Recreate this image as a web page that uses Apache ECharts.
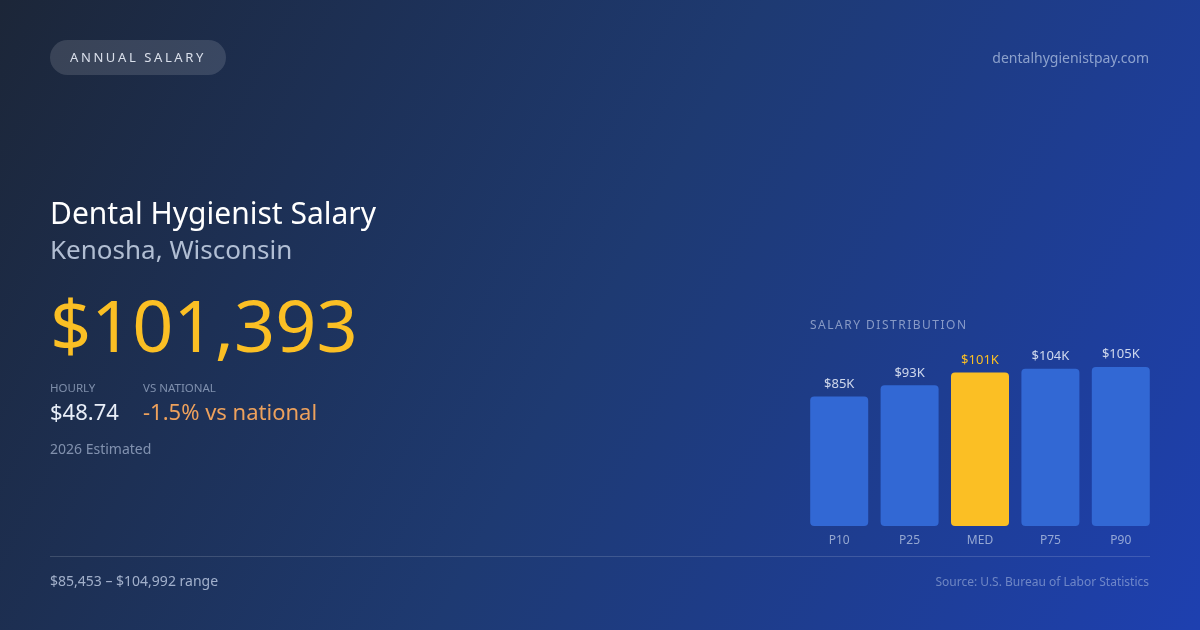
<!DOCTYPE html>
<html>
<head>
<meta charset="utf-8">
<script src="https://cdn.jsdelivr.net/npm/echarts@6/dist/echarts.min.js"></script>
<style>
  html, body { margin: 0; padding: 0; }
  #container { width: 1200px; height: 630px; }
</style>
</head>
<body>
<div id="container"></div>
<script>
// data
var categories = ['P10', 'P25', 'MED', 'P75', 'P90'];
var salaries = [85453, 92900, 101393, 103800, 104992];
var medianIndex = 2;

var title = 'Dental Hygienist Salary';
var place = 'Kenosha, Wisconsin';
var medianText = '$101,393';
var hourlyText = '$48.74';
var nationalText = '-1.5% vs national';
var rangeText = '$85,453 – $104,992 range';

var FONT = '"Noto Sans", "Open Sans", sans-serif';

// letter-spaced text, one element per character
var measureCtx = document.createElement('canvas').getContext('2d');
function spaced(str, x, y, size, spacing, color) {
    measureCtx.font = size + 'px ' + FONT;
    var out = [];
    var cx = x;
    for (var i = 0; i < str.length; i++) {
        var ch = str[i];
        out.push({
            type: 'text', x: cx, y: y,
            style: { text: ch, font: size + 'px ' + FONT, fill: color, verticalAlign: 'middle' }
        });
        cx += measureCtx.measureText(ch).width + spacing;
    }
    return out;
}

function txt(str, x, y, size, color, align) {
    return {
        type: 'text', x: x, y: y,
        style: {
            text: str, fill: color, align: align || 'left', verticalAlign: 'middle',
            font: size + 'px ' + FONT
        }
    };
}

var myChart = echarts.init(document.getElementById('container'));

var graphics = [
    { type: 'rect', shape: { x: 50, y: 40, width: 176, height: 35, r: 17.5 }, style: { fill: 'rgba(255,255,255,0.13)' } },
    txt('dentalhygienistpay.com', 1149, 59.5, 14, 'rgba(200,215,240,0.65)', 'right'),
    txt(title, 50, 215, 30, '#ffffff'),
    txt(place, 50, 252, 26, 'rgba(210,222,240,0.82)'),
    txt(medianText, 50, 331, 72, '#fbbf24'),
    txt('HOURLY', 50, 388.5, 11.5, 'rgba(190,205,230,0.6)'),
    txt('VS NATIONAL', 143, 388.5, 11.5, 'rgba(190,205,230,0.6)'),
    txt(hourlyText, 50, 414, 22, '#e8eef8'),
    txt(nationalText, 143, 414, 22, '#eda15c'),
    txt('2026 Estimated', 50, 450.5, 14, 'rgba(190,205,230,0.62)'),
    { type: 'line', shape: { x1: 50, y1: 556.5, x2: 1150, y2: 556.5 }, style: { stroke: 'rgba(255,255,255,0.15)', lineWidth: 1 } },
    txt(rangeText, 50, 582.5, 14, 'rgba(205,218,240,0.75)'),
    txt('Source: U.S. Bureau of Labor Statistics', 1149, 582.5, 12, 'rgba(190,205,235,0.5)', 'right')
];
graphics = graphics.concat(spaced('ANNUAL SALARY', 70, 58.5, 13, 2.6, 'rgba(235,240,250,0.9)'));
graphics = graphics.concat(spaced('SALARY DISTRIBUTION', 810, 326, 12, 1.5, 'rgba(200,212,235,0.62)'));

myChart.setOption({
    backgroundColor: new echarts.graphic.LinearGradient(0, 0, 1, 1, [
        { offset: 0, color: '#1c2638' },
        { offset: 0.5, color: '#1e3a72' },
        { offset: 1, color: '#1e40b0' }
    ]),
    animation: false,
    textStyle: { fontFamily: FONT },
    graphic: graphics,
    grid: { left: 804, right: 44, top: 367, bottom: 104 },
    xAxis: {
        type: 'category',
        data: categories,
        axisLine: { show: false },
        axisTick: { show: false },
        axisLabel: { color: 'rgba(200,212,235,0.7)', fontSize: 12, margin: 8.5 }
    },
    yAxis: {
        type: 'value',
        min: 0,
        max: 'dataMax',
        show: false,
        splitLine: { show: false }
    },
    series: [{
        type: 'bar',
        barWidth: 58,
        data: salaries.map(function (v, i) {
            return {
                value: v,
                itemStyle: { color: i === medianIndex ? '#fbbf24' : '#3268d4' },
                label: { color: i === medianIndex ? '#fbbf24' : 'rgba(225,232,245,0.9)' }
            };
        }),
        itemStyle: { borderRadius: 4 },
        label: {
            show: true,
            position: 'top',
            distance: 6,
            fontSize: 13,
            formatter: function (p) { return '$' + Math.round(p.value / 1000) + 'K'; }
        }
    }]
});
</script>
</body>
</html>
